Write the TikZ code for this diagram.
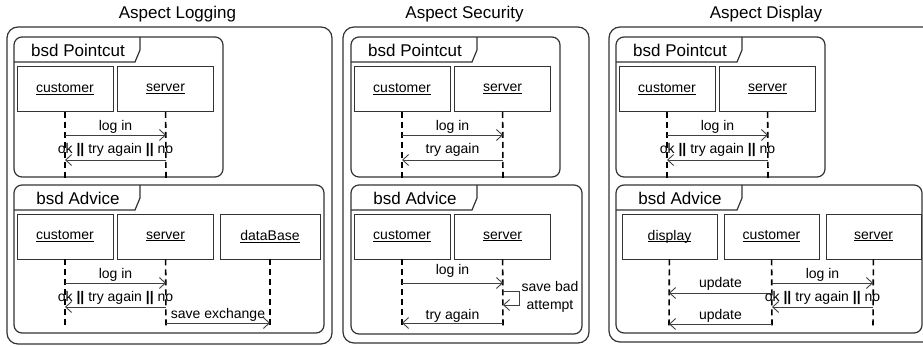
\documentclass[tikz,border=0pt]{standalone}
\usepackage{fontspec}
\setmainfont{Liberation Sans}
\usetikzlibrary{arrows.meta}

\newcommand\undl[1]{\setbox0\hbox{#1}\rlap{\vrule width\wd0 height -1.3pt depth 2.3pt}\box0}

\tikzset{
  frame/.style={draw=black!80,line width=1.2pt,rounded corners=8pt},
  tab/.style={draw=black!80,line width=1.2pt},
  obj/.style={draw=black!80,line width=0.9pt,minimum width=96pt,minimum height=45pt,inner sep=0pt},
  life/.style={line width=1.6pt,dash pattern=on 6pt off 4pt},
  msg/.style={->,draw=black!75,line width=0.9pt},
  big/.style={font=\fontsize{17}{20}\selectfont},
}

\begin{document}
\begin{tikzpicture}[>={Straight Barb[length=6pt,width=11pt,line width=0.9pt]},x=1pt,y=-1pt,font=\fontsize{14}{16}\selectfont]
\useasboundingbox (0,0) rectangle (923,347);
\clip (0,0) rectangle (923,347);

% aspects
\draw[frame,rounded corners=11pt] (7,27) rectangle (332,344);
\draw[frame,rounded corners=11pt] (343,27) rectangle (589,343);
\draw[frame,rounded corners=11pt] (609,27) rectangle (950,342);
\node[big] (tLog) at (177.5,14) {Aspect Logging};
\node[big] (tSec) at (464.5,14) {Aspect Security};
\node[big] (tDis) at (766,14) {Aspect Display};

% pointcuts
\foreach \n/\dx/\ans in {L/0/{ok \textbf{||} try again \textbf{||} no},S/337/{try again},D/602/{ok \textbf{||} try again \textbf{||} no}} {
  \begin{scope}[xshift=\dx]
    \draw[frame] (14,37) rectangle (223,177);
    \draw[tab] (14,62) -- (135,62) -- (140,50) -- (140,37);
    \node[big] (pc\n) at (78,50) {bsd Pointcut};
    \node[obj] (pcc\n) at (65,89) {\undl{customer}};
    \node[obj] (pcs\n) at (165.5,89) {\undl{server}};
    \coordinate (pcce\n) at (65,178);
    \coordinate (pcse\n) at (166,178);
    \draw[life] (pcc\n) -- (pcce\n);
    \draw[life] (pcs\n) -- (pcse\n);
    \coordinate (pm1a\n) at (65,135);
    \coordinate (pm1b\n) at (166,135);
    \draw[msg] (pm1a\n) -- node[above,inner sep=1.5pt] (pl1\n) {log in} (pm1b\n);
    \coordinate (pm2a\n) at (166,160);
    \coordinate (pm2b\n) at (65,160);
    \draw[msg] (pm2a\n) -- node[above,inner sep=3pt] (pl2\n) {\ans} (pm2b\n);
  \end{scope}
}

% advice logging
\draw[frame] (14,185) rectangle (324,333);
\draw[tab] (14,210) -- (135,210) -- (140,198) -- (140,185);
\node[big] (adL) at (78,198) {bsd Advice};
\node[obj] (acL) at (65,236.5) {\undl{customer}};
\node[obj] (asL) at (165.5,236.5) {\undl{server}};
\node[obj,minimum width=100pt] (adbL) at (270,236.5) {\undl{dataBase}};
\coordinate (aceL) at (65,328);
\coordinate (aseL) at (166,328);
\coordinate (adbeL) at (270,328);
\draw[life] (acL) -- (aceL);
\draw[life] (asL) -- (aseL);
\draw[life] (adbL) -- (adbeL);
\coordinate (l1a) at (65,283);
\coordinate (l1b) at (166,283);
\draw[msg] (l1a) -- node[above,inner sep=1pt] (ll1) {log in} (l1b);
\coordinate (l2a) at (166,307);
\coordinate (l2b) at (65,307);
\draw[msg] (l2a) -- node[above,inner sep=2pt] (ll2) {ok \textbf{||} try again \textbf{||} no} (l2b);
\coordinate (l3a) at (166,323);
\coordinate (l3b) at (270,323);
\draw[msg] (l3a) -- node[above,inner sep=1pt] (ll3) {save exchange} (l3b);

% advice security
\draw[frame] (351,185) rectangle (582,334);
\draw[tab] (351,210) -- (472,210) -- (477,198) -- (477,185);
\node[big] (adS) at (415,198) {bsd Advice};
\node[obj] (acS) at (402,236.5) {\undl{customer}};
\node[obj] (asS) at (502.5,236.5) {\undl{server}};
\coordinate (aceS) at (402,328);
\coordinate (aseS) at (503,328);
\draw[life] (acS) -- (aceS);
\draw[life] (asS) -- (aseS);
\coordinate (s1a) at (402,283);
\coordinate (s1b) at (503,283);
\draw[msg] (s1a) -- node[above,inner sep=5pt] (sl1) {log in} (s1b);
\coordinate (s2a) at (503,291);
\coordinate (s2b) at (519,291);
\coordinate (s2c) at (519,305);
\coordinate (s2d) at (503,305);
\draw[msg] (s2a) -- (s2b) -- (s2c) -- (s2d);
\node[align=center,font=\fontsize{14}{18}\selectfont] (sl2) at (550,297) {save bad\\attempt};
\coordinate (s3a) at (503,323);
\coordinate (s3b) at (402,323);
\draw[msg] (s3a) -- node[above,inner sep=0pt] (sl3) {try again} (s3b);

% advice display
\draw[frame] (616,185) rectangle (922,333);
\draw[tab] (616,210) -- (737,210) -- (742,198) -- (742,185);
\node[big] (adD) at (680,198) {bsd Advice};
\node[obj,minimum width=95pt] (adpD) at (669.5,236.5) {\undl{display}};
\node[obj,minimum width=95pt] (acD) at (771.5,236.5) {\undl{customer}};
\node[obj,minimum width=95pt] (asD) at (873.5,236.5) {\undl{server}};
\coordinate (adpeD) at (669,328);
\coordinate (aceD) at (772,328);
\coordinate (aseD) at (873,328);
\draw[life] (adpD) -- (adpeD);
\draw[life] (acD) -- (aceD);
\draw[life] (asD) -- (aseD);
\coordinate (d1a) at (772,283);
\coordinate (d1b) at (873,283);
\draw[msg] (d1a) -- node[above,inner sep=1pt] (dl1) {log in} (d1b);
\coordinate (d2a) at (772,293);
\coordinate (d2b) at (669,293);
\draw[msg] (d2a) -- node[above,inner sep=2pt] (dl2) {update} (d2b);
\coordinate (d3a) at (873,307);
\coordinate (d3b) at (772,307);
\draw[msg] (d3a) -- node[above,inner sep=2pt] (dl3) {ok \textbf{||} try again \textbf{||} no} (d3b);
\coordinate (d4a) at (772,324);
\coordinate (d4b) at (669,324);
\draw[msg] (d4a) -- node[above,inner sep=1pt] (dl4) {update} (d4b);
\end{tikzpicture}
\end{document}
